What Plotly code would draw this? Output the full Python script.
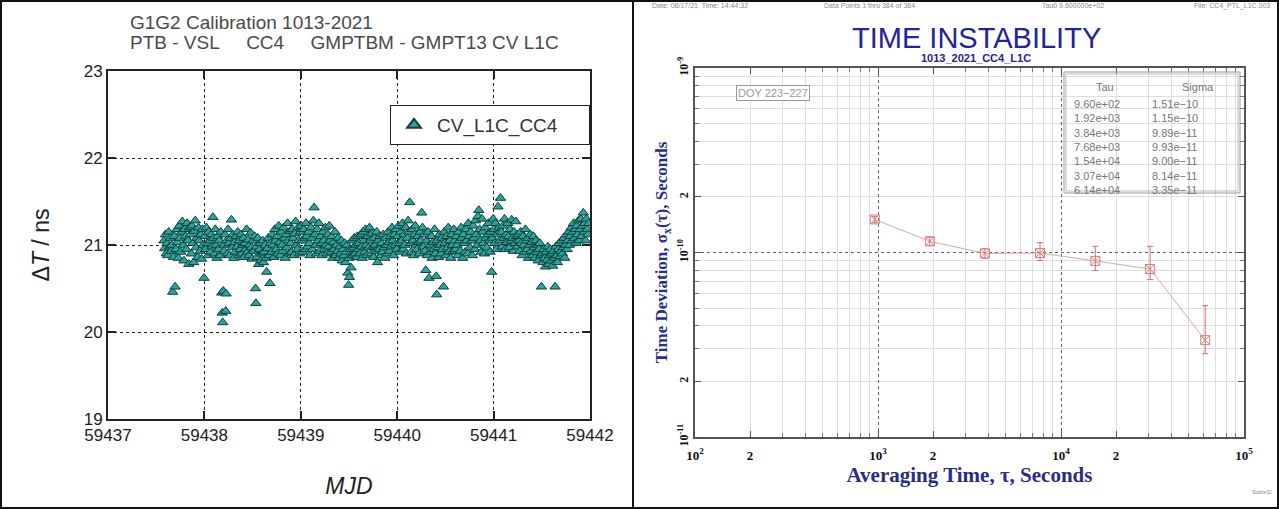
import plotly.graph_objects as go

# ---------------- Left panel data (MJD vs Delta T) ----------------
mjd = [
    59437.580, 59437.588, 59437.596, 59437.604, 59437.613, 59437.621, 59437.630, 59437.638, 59437.646, 59437.655,
    59437.663, 59437.671, 59437.680, 59437.688, 59437.696, 59437.705, 59437.713,
    59437.721, 59437.730, 59437.738, 59437.746, 59437.755, 59437.763, 59437.771, 59437.780, 59437.788, 59437.796,
    59437.805, 59437.813, 59437.821, 59437.830, 59437.838, 59437.846, 59437.855, 59437.863, 59437.871, 59437.880,
    59437.888, 59437.896, 59437.905, 59437.913, 59437.921, 59437.930, 59437.938, 59437.946, 59437.955, 59437.963,
    59437.971, 59437.980, 59437.988, 59437.996,
    59438.005, 59438.013, 59438.021, 59438.030, 59438.038, 59438.046, 59438.055, 59438.063, 59438.071, 59438.080,
    59438.088, 59438.096, 59438.105, 59438.113, 59438.121, 59438.130, 59438.138, 59438.146, 59438.155, 59438.163,
    59438.171, 59438.180, 59438.185, 59438.190, 59438.196, 59438.200, 59438.205, 59438.213, 59438.221, 59438.225,
    59438.230, 59438.238, 59438.246, 59438.255, 59438.263, 59438.271, 59438.280, 59438.288, 59438.296, 59438.305,
    59438.313,
    59438.321, 59438.330, 59438.338, 59438.346, 59438.355, 59438.363, 59438.371, 59438.380, 59438.388, 59438.396,
    59438.405, 59438.413, 59438.421, 59438.430, 59438.438, 59438.446, 59438.455, 59438.463, 59438.471, 59438.480,
    59438.488, 59438.496, 59438.505, 59438.513, 59438.521, 59438.530, 59438.534, 59438.538, 59438.546, 59438.555,
    59438.563, 59438.571, 59438.580, 59438.588, 59438.596, 59438.605, 59438.613, 59438.621, 59438.630, 59438.638,
    59438.646, 59438.655, 59438.663, 59438.671, 59438.680,
    59438.688, 59438.696, 59438.705, 59438.713, 59438.721, 59438.730, 59438.738, 59438.746, 59438.755, 59438.763,
    59438.771, 59438.780, 59438.788, 59438.796, 59438.805, 59438.813, 59438.821, 59438.830, 59438.838, 59438.846,
    59438.855, 59438.863, 59438.871, 59438.880, 59438.888, 59438.896, 59438.905, 59438.913, 59438.921, 59438.930,
    59438.938, 59438.946, 59438.955, 59438.963, 59438.971, 59438.980, 59438.988, 59438.996,
    59439.005, 59439.013, 59439.021, 59439.030, 59439.038, 59439.046, 59439.055, 59439.063, 59439.071, 59439.080,
    59439.088, 59439.096, 59439.105, 59439.113, 59439.121, 59439.130, 59439.138, 59439.146, 59439.155, 59439.163,
    59439.171, 59439.180, 59439.188, 59439.196, 59439.205, 59439.213, 59439.221, 59439.230, 59439.238, 59439.246,
    59439.255, 59439.263, 59439.271, 59439.280, 59439.288, 59439.296, 59439.305, 59439.313, 59439.321, 59439.330,
    59439.338, 59439.346, 59439.355, 59439.363, 59439.371, 59439.380, 59439.388, 59439.396,
    59439.405, 59439.413, 59439.421, 59439.430, 59439.438, 59439.446, 59439.455, 59439.463, 59439.471, 59439.480,
    59439.488, 59439.496, 59439.500, 59439.505, 59439.513, 59439.521, 59439.530, 59439.538, 59439.546, 59439.555,
    59439.563, 59439.571, 59439.580, 59439.588, 59439.596,
    59439.605, 59439.613, 59439.621, 59439.630, 59439.638, 59439.646, 59439.655, 59439.663, 59439.671, 59439.680,
    59439.688, 59439.696, 59439.705, 59439.713, 59439.721, 59439.730, 59439.738, 59439.746, 59439.755, 59439.763,
    59439.771, 59439.780, 59439.788, 59439.796, 59439.805, 59439.813, 59439.821, 59439.830, 59439.838, 59439.846,
    59439.855, 59439.863, 59439.871, 59439.880, 59439.888, 59439.896, 59439.905, 59439.913, 59439.921, 59439.930,
    59439.938, 59439.946, 59439.955, 59439.963, 59439.971, 59439.980, 59439.988, 59439.996,
    59440.005, 59440.013, 59440.021, 59440.030, 59440.038, 59440.046, 59440.055, 59440.063, 59440.071, 59440.080,
    59440.088, 59440.096, 59440.105, 59440.113, 59440.121, 59440.130, 59440.138, 59440.146, 59440.155, 59440.163,
    59440.171, 59440.180, 59440.188, 59440.196, 59440.205, 59440.213, 59440.221, 59440.230, 59440.238, 59440.246,
    59440.255, 59440.263, 59440.271, 59440.280, 59440.288, 59440.296, 59440.305, 59440.313, 59440.321, 59440.330,
    59440.338, 59440.346, 59440.355, 59440.363, 59440.371, 59440.380, 59440.388, 59440.396, 59440.405, 59440.410,
    59440.413, 59440.421, 59440.430, 59440.438, 59440.446, 59440.455, 59440.463, 59440.471, 59440.480, 59440.488,
    59440.496, 59440.505, 59440.513, 59440.521, 59440.530, 59440.538, 59440.546, 59440.555, 59440.563, 59440.571,
    59440.580, 59440.588, 59440.596,
    59440.605, 59440.613, 59440.621, 59440.630, 59440.638, 59440.646, 59440.655, 59440.663, 59440.671, 59440.680,
    59440.688, 59440.696, 59440.705, 59440.713, 59440.721, 59440.730, 59440.738, 59440.746, 59440.755, 59440.763,
    59440.771, 59440.780, 59440.788, 59440.796, 59440.805, 59440.813, 59440.821, 59440.830, 59440.838, 59440.846,
    59440.855, 59440.863, 59440.871, 59440.880, 59440.888, 59440.896, 59440.905, 59440.913, 59440.921, 59440.930,
    59440.938, 59440.946,
    59440.955, 59440.963, 59440.971, 59440.980, 59440.988, 59440.996, 59441.005, 59441.013, 59441.021, 59441.030,
    59441.038, 59441.046, 59441.055, 59441.063, 59441.071, 59441.080, 59441.088, 59441.096, 59441.105, 59441.113,
    59441.121, 59441.130, 59441.138, 59441.146, 59441.155, 59441.163, 59441.171, 59441.180, 59441.188, 59441.196,
    59441.205, 59441.213, 59441.221, 59441.230, 59441.238, 59441.246, 59441.255,
    59441.263, 59441.271, 59441.280, 59441.288, 59441.296, 59441.305, 59441.313, 59441.321, 59441.330, 59441.338,
    59441.346, 59441.355, 59441.363, 59441.371, 59441.380, 59441.388, 59441.396, 59441.405, 59441.413, 59441.421,
    59441.430, 59441.438, 59441.446, 59441.455, 59441.463, 59441.471, 59441.480, 59441.488,
    59441.496, 59441.505, 59441.513, 59441.521, 59441.530, 59441.538, 59441.546, 59441.555, 59441.563, 59441.571,
    59441.580, 59441.588, 59441.596, 59441.605, 59441.613, 59441.621, 59441.630, 59441.638, 59441.646, 59441.655,
    59441.663, 59441.671, 59441.680, 59441.688, 59441.696, 59441.705, 59441.713, 59441.721, 59441.730, 59441.738,
    59441.746, 59441.755, 59441.763, 59441.771,
    59441.780, 59441.788, 59441.796, 59441.805, 59441.813, 59441.821, 59441.830, 59441.838, 59441.846, 59441.855,
    59441.863, 59441.871, 59441.880, 59441.888, 59441.896, 59441.905, 59441.913, 59441.921, 59441.930, 59441.938,
    59441.946, 59441.955, 59441.963, 59441.971, 59441.980, 59441.988,
]

delta_t = [
    21.05, 20.96, 21.12, 20.90, 21.02, 20.88, 21.15, 20.98, 21.08, 20.93,
    21.00, 20.46, 20.86, 21.10, 20.52, 20.95, 21.18,
    21.03, 20.85, 21.22, 21.08, 20.92, 21.15, 21.27, 21.00, 20.82, 21.18,
    21.10, 20.95, 21.25, 21.05, 20.78, 21.20, 21.12, 20.90, 21.22, 21.02,
    20.80, 21.16, 21.28, 20.97, 21.08, 20.86, 21.20, 21.05, 20.93, 21.12,
    20.84, 21.18, 21.00, 20.62,
    21.10, 20.95, 21.20, 21.02, 20.88, 21.15, 21.05, 20.92, 21.12, 20.98,
    21.32, 21.08, 20.90, 21.18, 21.00, 20.85, 21.10, 20.95, 21.05, 20.88,
    21.15, 20.45, 20.22, 20.11, 20.47, 21.00, 20.93, 21.12, 20.24, 20.44,
    21.05, 20.90, 21.18, 21.02, 20.88, 21.08, 21.29, 20.97, 21.12, 20.85,
    21.03,
    20.92, 21.10, 20.98, 21.15, 20.88, 21.05, 20.95, 21.12, 20.90, 21.00,
    21.08, 20.86, 21.02, 20.95, 21.18, 20.92, 21.06, 20.88, 21.00, 21.14,
    20.97, 20.84, 21.05, 20.93, 21.10, 20.50, 20.33, 20.98, 20.86, 21.08,
    20.78, 20.95, 21.02, 20.82, 20.90, 21.05, 20.80, 20.92, 21.00, 20.85,
    20.69, 20.96, 21.08, 20.88, 20.56,
    21.02, 20.92, 21.12, 21.00, 20.86, 21.18, 21.05, 20.95, 21.10, 20.90,
    21.22, 21.03, 20.88, 21.15, 21.00, 20.93, 21.20, 21.08, 20.85, 21.12,
    20.97, 21.25, 21.05, 20.90, 21.16, 21.02, 20.92, 21.18, 21.08, 20.88,
    21.13, 21.27, 21.00, 20.95, 21.20, 21.05, 20.90, 21.15,
    21.22, 21.05, 20.92, 21.18, 21.08, 20.95, 21.25, 21.10, 20.98, 21.15,
    21.02, 20.88, 21.20, 21.08, 20.95, 21.28, 21.43, 21.12, 21.00, 20.90,
    21.18, 21.05, 21.25, 20.93, 21.10, 21.02, 20.88, 21.15, 21.05, 20.95,
    21.20, 21.00, 20.90, 21.12, 20.98, 21.22, 21.05, 20.92, 21.10, 20.85,
    21.03, 20.95, 21.15, 20.88, 21.00, 20.93, 21.08, 20.85,
    20.98, 20.90, 21.05, 20.82, 20.95, 20.88, 21.02, 20.80, 20.92, 21.00,
    20.68, 20.54, 20.85, 20.63, 20.95, 20.74, 21.05, 20.88, 20.97, 21.08,
    20.90, 21.00, 20.86, 21.10, 20.95,
    21.02, 20.90, 21.12, 20.98, 20.85, 21.15, 21.05, 20.92, 21.18, 21.00,
    20.88, 21.10, 20.97, 21.20, 21.05, 20.90, 21.13, 20.98, 20.86, 21.08,
    21.00, 20.93, 21.15, 20.80, 21.05, 20.95, 21.10, 20.88, 21.02, 20.92,
    21.12, 20.97, 20.85, 21.08, 21.00, 20.90, 21.15, 21.03, 20.93, 21.10,
    20.98, 21.20, 21.05, 20.88, 21.12, 21.00, 21.18, 20.95,
    21.10, 21.22, 21.02, 20.92, 21.15, 21.05, 21.25, 20.95, 21.12, 21.00,
    21.20, 20.90, 21.08, 21.28, 21.15, 21.49, 21.02, 20.92, 21.18, 21.05,
    20.88, 21.12, 21.22, 21.00, 20.95, 21.10, 21.03, 20.90, 21.15, 21.05,
    21.37, 21.20, 20.98, 21.12, 20.93, 20.71, 21.05, 20.88, 21.15, 20.62,
    21.00, 20.92, 21.10, 20.85, 21.03, 20.95, 21.18, 20.90, 20.64, 20.43,
    21.05, 20.97, 20.86, 21.12, 21.00, 20.90, 21.08, 20.95, 20.52, 21.15,
    21.02, 20.88, 21.10, 20.97, 21.20, 20.92, 21.05, 20.85, 21.12, 21.00,
    20.93, 21.18, 21.05,
    20.95, 21.10, 21.00, 20.88, 21.15, 21.05, 20.93, 21.20, 21.08, 20.85,
    21.12, 21.02, 20.92, 21.18, 21.05, 20.90, 21.25, 21.10, 20.97, 21.15,
    21.05, 20.88, 21.22, 21.08, 20.95, 21.28, 21.12, 21.00, 21.33, 21.40,
    21.18, 21.05, 20.92, 21.30, 21.15, 21.02, 20.90, 21.20, 21.08, 20.97,
    21.12, 21.25,
    21.05, 20.92, 21.15, 20.69, 21.08, 21.30, 21.18, 21.02, 21.25, 20.95,
    21.12, 21.44, 21.20, 21.05, 21.54, 21.15, 20.98, 21.22, 21.08, 21.30,
    20.95, 21.12, 21.03, 21.25, 21.10, 20.97, 21.18, 21.05, 21.29, 21.08,
    20.93, 21.15, 21.02, 21.27, 21.10, 20.98, 21.12,
    21.05, 20.93, 21.15, 21.02, 20.88, 21.10, 21.00, 20.92, 21.18, 21.05,
    20.95, 21.08, 20.85, 21.00, 21.12, 20.93, 21.03, 20.88, 21.10, 20.97,
    20.85, 21.05, 20.92, 21.00, 20.82, 20.95, 21.02, 20.88,
    20.52, 20.90, 20.80, 20.95, 20.85, 20.75, 20.92, 20.83, 20.98, 20.78,
    20.88, 20.95, 20.82, 20.90, 20.76, 20.93, 20.85, 20.52, 20.98, 20.88,
    20.80, 20.95, 21.02, 20.87, 20.93, 21.05, 20.90, 20.97, 21.08, 20.85,
    21.00, 21.12, 20.95, 21.05,
    21.15, 21.00, 21.10, 21.20, 21.05, 21.15, 21.25, 21.08, 21.18, 21.02,
    21.22, 21.12, 21.28, 21.05, 21.18, 21.30, 21.10, 21.22, 21.37, 21.15,
    21.25, 21.05, 21.30, 21.18, 21.12, 21.25,
]

mjd_ticks = [59437, 59438, 59439, 59440, 59441, 59442]
mjd_tick_labels = ["59437", "59438", "59439", "59440", "59441", "59442"]
dt_ticks = [19, 20, 21, 22, 23]

# ---------------- Right panel data (TDEV) ----------------
tau = [9.60e2, 1.92e3, 3.84e3, 7.68e3, 1.54e4, 3.07e4, 6.14e4]
sigma = [1.51e-10, 1.15e-10, 9.89e-11, 9.93e-11, 9.00e-11, 8.14e-11, 3.35e-11]
sigma_hi = [1.57e-10, 1.21e-10, 1.05e-10, 1.13e-10, 1.08e-10, 1.08e-10, 5.15e-11]
sigma_lo = [1.45e-10, 1.09e-10, 0.93e-10, 9.05e-11, 7.98e-11, 7.13e-11, 2.83e-11]
tau_labels = ["9.60e+02", "1.92e+03", "3.84e+03", "7.68e+03", "1.54e+04", "3.07e+04", "6.14e+04"]
sigma_labels = ["1.51e\u221210", "1.15e\u221210", "9.89e\u221211", "9.93e\u221211",
                "9.00e\u221211", "8.14e\u221211", "3.35e\u221211"]

x_tick_vals = [1e2, 2e2, 1e3, 2e3, 1e4, 2e4, 1e5]
x_tick_text = ["10<sup>2</sup>", "2", "10<sup>3</sup>", "2", "10<sup>4</sup>", "2", "10<sup>5</sup>"]
y_tick_vals = [1e-11, 2e-11, 1e-10, 2e-10, 1e-9]
y_tick_text = ["10<sup>-11</sup>", "2", "10<sup>-10</sup>", "2", "10<sup>-9</sup>"]

W, H = 1279, 509
def px(x):
    return x / W
def py(y):
    return 1 - y / H

minor_x = [m * 10 ** e for e in (2, 3, 4) for m in range(2, 10)]
minor_y = [m * 10.0 ** e for e in (-11, -10) for m in range(2, 10)]

NB = "\u00a0"

fig = go.Figure()

fig.add_trace(go.Scatter(
    x=mjd, y=delta_t, mode="markers", name="CV_L1C_CC4" + NB * 5,
    marker=dict(symbol="triangle-up", size=9, color="#2aa39a",
                line=dict(color="#123c3a", width=1)),
    xaxis="x", yaxis="y",
))

fig.add_trace(go.Scatter(
    x=tau, y=sigma, mode="lines+markers", showlegend=False,
    line=dict(color="#e3a3a3", width=1),
    marker=dict(symbol="square-x-open", size=9, color="#d98080", line=dict(width=1)),
    error_y=dict(type="data", symmetric=False,
                 array=[h - s for h, s in zip(sigma_hi, sigma)],
                 arrayminus=[s - l for s, l in zip(sigma, sigma_lo)],
                 color="#cf7070", thickness=1, width=3),
    xaxis="x2", yaxis="y2",
))

# empty trace to host the decade-grid overlay axes
fig.add_trace(go.Scatter(x=[], y=[], xaxis="x3", yaxis="y3", showlegend=False))

sans = "Liberation Sans, Arial, sans-serif"
serif = "Liberation Serif, Times New Roman, serif"
navy = "#2b2b8c"

fig.update_layout(
    width=W, height=H, margin=dict(l=0, r=0, t=0, b=0, autoexpand=False),
    paper_bgcolor="white", plot_bgcolor="white",
    font=dict(family=sans, color="#333"),
    showlegend=True,
    legend=dict(x=px(590), xanchor="right", y=py(105), yanchor="top",
                bordercolor="#222", borderwidth=1, bgcolor="white",
                font=dict(family=sans, size=19, color="#333"),
                itemwidth=36, tracegroupgap=0, itemsizing="constant"),
    xaxis=dict(domain=[px(108), px(590)], anchor="y", range=[59437, 59442], automargin=False,
               tickvals=mjd_ticks, ticktext=mjd_tick_labels,
               tickfont=dict(family=sans, size=17, color="#222"),
               ticks="inside", ticklen=8, tickwidth=2, tickcolor="#222",
               showline=True, linecolor="#222", linewidth=2, mirror="ticks",
               showgrid=True, gridcolor="#222", griddash="dot", gridwidth=1,
               zeroline=False,
               title=dict(text="<i>MJD</i>", font=dict(family=sans, size=23, color="#222"), standoff=33)),
    yaxis=dict(domain=[py(419), py(71)], anchor="x", range=[19, 23], automargin=False,
               tickvals=dt_ticks,
               tickfont=dict(family=sans, size=17, color="#222"),
               ticks="inside", ticklen=8, tickwidth=2, tickcolor="#222",
               showline=True, linecolor="#222", linewidth=2, mirror="ticks",
               showgrid=True, gridcolor="#222", griddash="dot", gridwidth=1,
               zeroline=False,
               title=dict(text="\u0394<i>T</i> / ns", font=dict(family=sans, size=23, color="#222"), standoff=28)),
    xaxis2=dict(domain=[px(695), px(1244)], anchor="y2", type="log", range=[2, 5], automargin=False,
                tickvals=x_tick_vals, ticktext=x_tick_text, ticklabelstandoff=5,
                tickfont=dict(family=serif, size=13, color="#111", weight="bold"),
                ticks="inside", ticklen=6, tickcolor="#555",
                showline=True, linecolor="#555", linewidth=2, mirror="ticks",
                showgrid=False, zeroline=False,
                minor=dict(tickvals=minor_x, showgrid=True, gridcolor="#dedede", gridwidth=1,
                           ticks="inside", ticklen=4, tickcolor="#777"),
                title=dict(text="Averaging Time, \u03c4, Seconds",
                           font=dict(family=serif, size=21, color=navy, weight="bold"), standoff=0)),
    yaxis2=dict(domain=[py(437), py(68)], anchor="x2", type="log", range=[-11, -9], automargin=False,
                tickvals=y_tick_vals, ticktext=y_tick_text, tickangle=-90,
                tickfont=dict(family=serif, size=12, color="#111", weight="bold"),
                ticks="inside", ticklen=6, tickcolor="#555",
                showline=True, linecolor="#555", linewidth=2, mirror="ticks",
                showgrid=False, zeroline=False,
                minor=dict(tickvals=minor_y, showgrid=True, gridcolor="#dedede", gridwidth=1,
                           ticks="inside", ticklen=4, tickcolor="#777"),
                title=dict(text="Time Deviation, \u03c3<sub>x</sub>(\u03c4), Seconds",
                           font=dict(family=serif, size=17, color=navy, weight="bold"), standoff=4)),
    xaxis3=dict(overlaying="x2", anchor="y3", type="log", range=[2, 5], automargin=False,
                tickvals=[1e2, 1e3, 1e4, 1e5], showticklabels=False, ticks="",
                showgrid=True, gridcolor="#666", griddash="dot", gridwidth=1, zeroline=False),
    yaxis3=dict(overlaying="y2", anchor="x3", type="log", range=[-11, -9], automargin=False,
                tickvals=[1e-11, 1e-10, 1e-9], showticklabels=False, ticks="",
                showgrid=True, gridcolor="#666", griddash="dot", gridwidth=1, zeroline=False),
)

ann = []
# left titles
ann.append(dict(text="G1G2 Calibration 1013-2021", x=px(128), y=py(22), xref="paper", yref="paper",
                xanchor="left", yanchor="middle", showarrow=False,
                font=dict(family=sans, size=19, color="#4a4a4a")))
ann.append(dict(text="PTB - VSL" + NB * 5 + "CC4" + NB * 5 + "GMPTBM - GMPT13 CV L1C",
                x=px(128), y=py(43), xref="paper", yref="paper",
                xanchor="left", yanchor="middle", showarrow=False,
                font=dict(family=sans, size=19, color="#4a4a4a")))
# right header
hdr = dict(xref="paper", yref="paper", yanchor="middle", showarrow=False,
           font=dict(family=sans, size=7, color="#888"))
ann.append(dict(text="Date: 08/17/21  Time: 14:44:32", x=px(650), y=py(6), xanchor="left", **hdr))
ann.append(dict(text="Data Points 1 thru 384 of 384", x=px(822), y=py(6), xanchor="left", **hdr))
ann.append(dict(text="Tau0 9.600000e+02", x=px(1040), y=py(6), xanchor="left", **hdr))
ann.append(dict(text="File: CC4_PTL_L1C.003", x=px(1272), y=py(6), xanchor="right", **hdr))
ann.append(dict(text="TIME INSTABILITY", x=px(976), y=py(38), xref="paper", yref="paper",
                xanchor="center", yanchor="middle", showarrow=False,
                font=dict(family=sans, size=29, color="#23239a")))
ann.append(dict(text="<b>1013_2021_CC4_L1C</b>", x=px(976), y=py(58), xref="paper", yref="paper",
                xanchor="center", yanchor="middle", showarrow=False,
                font=dict(family=sans, size=11, color="#23239a")))
ann.append(dict(text="DOY 223\u2212227", x=px(773), y=py(93), xref="paper", yref="paper",
                xanchor="center", yanchor="middle", showarrow=False,
                bordercolor="#999", borderwidth=1, borderpad=1, bgcolor="white",
                font=dict(family=sans, size=11, color="#999")))
# table
tbl = dict(xref="paper", yref="paper", yanchor="top", showarrow=False, align="left",
           font=dict(family=sans, size=11, color="#777"))
ann.append(dict(text="Tau", x=px(1105), y=py(79), xanchor="center", **tbl))
ann.append(dict(text="Sigma", x=px(1198), y=py(79), xanchor="center", **tbl))
ann.append(dict(text="<br>".join(tau_labels), x=px(1072), y=py(96), xanchor="left", **tbl))
ann.append(dict(text="<br>".join(sigma_labels), x=px(1150), y=py(96), xanchor="left", **tbl))
ann.append(dict(text="Stable32", x=px(1274), y=py(492), xref="paper", yref="paper",
                xanchor="right", yanchor="middle", showarrow=False,
                font=dict(family=sans, size=5, color="#888")))
fig.update_layout(annotations=ann)

shapes = [
    # table box (double line)
    dict(type="rect", xref="paper", yref="paper", x0=px(1064), x1=px(1240), y0=py(193), y1=py(72),
         line=dict(color="#999", width=1)),
    dict(type="rect", xref="paper", yref="paper", x0=px(1066), x1=px(1238), y0=py(191), y1=py(74),
         line=dict(color="#bbb", width=1)),
    # panel borders
    dict(type="rect", xref="paper", yref="paper", x0=px(1), x1=px(1278), y0=py(508), y1=py(1),
         line=dict(color="#111", width=2)),
    dict(type="line", xref="paper", yref="paper", x0=px(633), x1=px(633), y0=0, y1=1,
         line=dict(color="#111", width=2)),
]
fig.update_layout(shapes=shapes)

fig.write_html("out.html")
